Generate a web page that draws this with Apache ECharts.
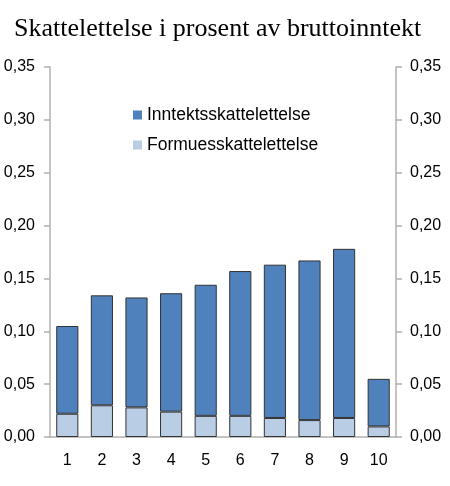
<!DOCTYPE html>
<html>
<head>
<meta charset="utf-8">
<title>Skattelettelse i prosent av bruttoinntekt</title>
<script src="https://cdn.jsdelivr.net/npm/echarts@6/dist/echarts.min.js"></script>
<style>
  * { margin: 0; padding: 0; }
  body { background: #fff; }
  #chart { width: 450px; height: 486px; }
</style>
</head>
<body>
<div id="chart"></div>
<script>
var categories = ['1', '2', '3', '4', '5', '6', '7', '8', '9', '10'];
// totals, split into wealth-tax part and the rest
var formuesskatt = [0.022, 0.030, 0.028, 0.024, 0.020, 0.020, 0.018, 0.016, 0.018, 0.010];
var inntektsskatt = [0.083, 0.104, 0.104, 0.112, 0.124, 0.137, 0.145, 0.151, 0.160, 0.045];
var yTicks = [0, 0.05, 0.10, 0.15, 0.20, 0.25, 0.30, 0.35];

var axisGray = '#b0b0b0';
var fmt = function (v) { return v.toFixed(2).replace('.', ','); };

function yAxis(pos) {
  return {
    type: 'value',
    position: pos,
    min: yTicks[0],
    max: yTicks[yTicks.length - 1],
    interval: 0.05,
    axisLine: { show: true, lineStyle: { color: axisGray, width: 1.5 } },
    axisTick: { show: true, length: 6, lineStyle: { color: axisGray, width: 1.5 } },
    splitLine: { show: false },
    axisLabel: {
      formatter: fmt,
      color: '#000',
      fontFamily: 'Liberation Sans, Arial, sans-serif',
      fontSize: 16,
      margin: pos == 'left' ? 15 : 14
    }
  };
}

var chart = echarts.init(document.getElementById('chart'));
chart.setOption({
  animation: false,
  backgroundColor: '#fff',
  title: {
    text: 'Skattelettelse i prosent av bruttoinntekt',
    left: 9,
    top: 11,
    textStyle: {
      fontFamily: 'Liberation Serif, Times New Roman, serif',
      fontWeight: 'normal',
      fontSize: 26,
      color: '#000'
    }
  },
  legend: {
    orient: 'vertical',
    left: 128,
    top: 100,
    itemWidth: 9,
    itemHeight: 9,
    itemGap: 10,
    icon: 'rect',
    itemStyle: { borderWidth: 0 },
    data: ['Inntektsskattelettelse', 'Formuesskattelettelse'],
    textStyle: {
      fontFamily: 'Liberation Sans, Arial, sans-serif',
      fontSize: 17.5,
      lineHeight: 20,
      color: '#000'
    }
  },
  grid: { left: 50, right: 54, top: 67, bottom: 49 },
  xAxis: {
    type: 'category',
    data: categories,
    axisLine: { lineStyle: { color: axisGray, width: 1.5 } },
    axisTick: { length: 5, lineStyle: { color: axisGray, width: 1.5 } },
    axisLabel: {
      color: '#000',
      fontFamily: 'Liberation Sans, Arial, sans-serif',
      fontSize: 16,
      margin: 16
    }
  },
  yAxis: [yAxis('left'), yAxis('right')],
  series: [
    {
      name: 'Formuesskattelettelse',
      type: 'bar',
      stack: 'total',
      data: formuesskatt,
      barCategoryGap: '36%',
      itemStyle: { color: '#b9cde5', borderColor: '#333', borderWidth: 1 }
    },
    {
      name: 'Inntektsskattelettelse',
      type: 'bar',
      stack: 'total',
      data: inntektsskatt,
      barCategoryGap: '36%',
      itemStyle: { color: '#4f81bd', borderColor: '#333', borderWidth: 1 }
    }
  ]
});
</script>
</body>
</html>
